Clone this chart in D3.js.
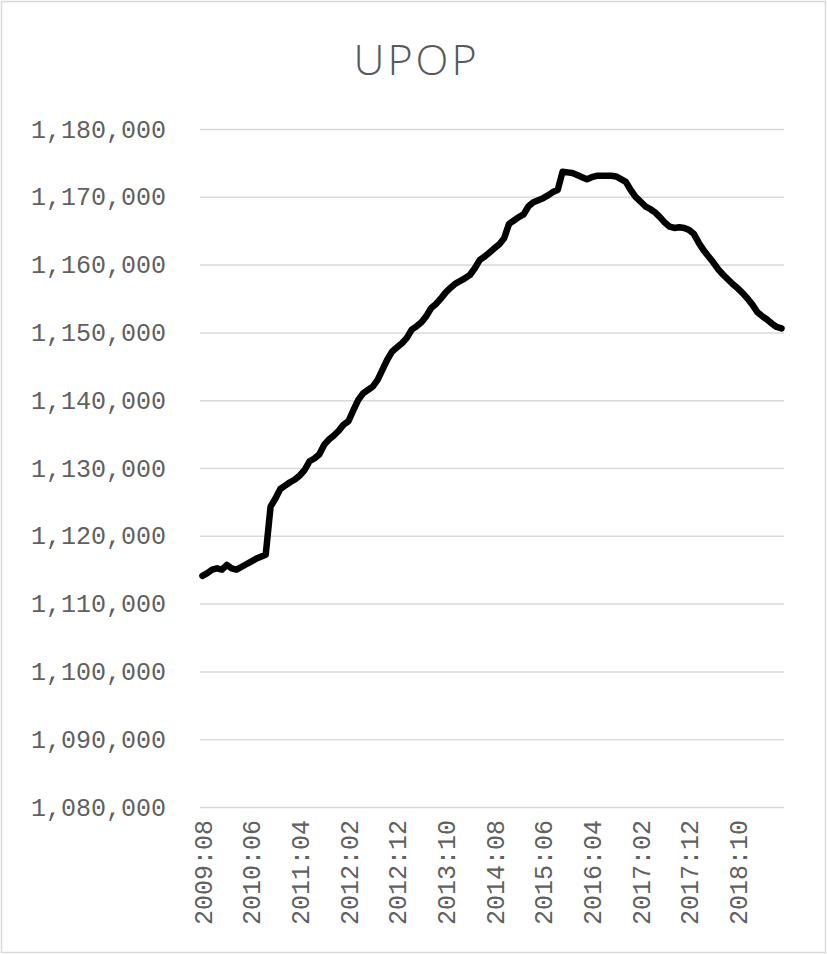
<!DOCTYPE html>
<html>
<head>
<meta charset="utf-8">
<script src="https://cdn.jsdelivr.net/npm/d3@7"></script>
<style>
  body { margin: 0; background: #fff; }
  svg { display: block; }
</style>
</head>
<body>
<svg width="827" height="954"></svg>
<script>
// reeks UPOP, maandelijks vanaf 2009:08 (120 maanden)
const startYear = 2009;
const startMonth = 8;
const monthCount = 120;

const upopValues = [
  1114100, 1114500, 1115000, 1115200, 1115000, 1115700, 1115200, 1115000, 1115400, 1115800,
  1116200, 1116600, 1116900, 1117200, 1124300, 1125500, 1126900, 1127400, 1127900, 1128300,
  1128900, 1129700, 1131000, 1131400, 1132000, 1133400, 1134200, 1134800, 1135500, 1136400,
  1136900, 1138500, 1140000, 1141000, 1141500, 1142000, 1143000, 1144500, 1146000, 1147200,
  1147800, 1148400, 1149200, 1150400, 1150900, 1151500, 1152400, 1153600, 1154200, 1155000,
  1155900, 1156600, 1157200, 1157600, 1158000, 1158500, 1159500, 1160700, 1161200, 1161800,
  1162400, 1163000, 1163900, 1166000, 1166500, 1167000, 1167400, 1168600, 1169200, 1169500,
  1169800, 1170200, 1170700, 1171000, 1173700, 1173600, 1173500, 1173200, 1172900, 1172600,
  1172900, 1173100, 1173100, 1173100, 1173100, 1173000, 1172600, 1172200, 1171000, 1170000,
  1169300, 1168600, 1168200, 1167700, 1167000, 1166200, 1165600, 1165400, 1165500, 1165400,
  1165100, 1164500, 1163200, 1162100, 1161200, 1160300, 1159300, 1158500, 1157800, 1157100,
  1156500, 1155800, 1155000, 1154100, 1153000, 1152400, 1151900, 1151300, 1150800, 1150600
];

const tickLabels = ['2009:08', '2010:06', '2011:04', '2012:02', '2012:12', '2013:10',
  '2014:08', '2015:06', '2016:04', '2017:02', '2017:12', '2018:10'];

const yTicks = [1080000, 1090000, 1100000, 1110000, 1120000, 1130000,
  1140000, 1150000, 1160000, 1170000, 1180000];

// maandlabels maken zoals 2009:08
const months = [];
for (let i = 0; i < monthCount; i++) {
  const m = startMonth - 1 + i;
  const y = startYear + Math.floor(m / 12);
  months.push(y + ':' + String(m % 12 + 1).padStart(2, '0'));
}
const data = months.map((m, i) => ({ month: m, value: upopValues[i] }));

const svg = d3.select('svg');
const width = +svg.attr('width');
const height = +svg.attr('height');
const margin = { top: 129, right: 43, bottom: 147, left: 200 };
const innerWidth = width - margin.left - margin.right;
const innerHeight = height - margin.top - margin.bottom;

// rand om de hele grafiek
svg.append('rect')
  .attr('x', 1.5).attr('y', 1.5)
  .attr('width', width - 3).attr('height', height - 3)
  .attr('fill', '#fff')
  .attr('stroke', '#d9d9d9')
  .attr('stroke-width', 1.5);

svg.append('text')
  .attr('x', width / 2 + 3)
  .attr('y', 75)
  .attr('text-anchor', 'middle')
  .style('font-family', '"Open Sans", sans-serif')
  .style('font-weight', 300)
  .style('font-size', '43px')
  .style('letter-spacing', '3px')
  .style('fill', '#595959')
  .text('UPOP');

const g = svg.append('g')
  .attr('transform', `translate(${margin.left},${margin.top})`);

const xScale = d3.scalePoint()
  .domain(months)
  .range([0, innerWidth])
  .padding(0.5);

const yScale = d3.scaleLinear()
  .domain([1080000, 1180000])
  .range([innerHeight, 0]);

// y as met rasterlijnen
const yAxisG = g.append('g')
  .call(d3.axisLeft(yScale)
    .tickValues(yTicks)
    .tickFormat(d3.format(','))
    .tickSizeInner(-innerWidth)
    .tickSizeOuter(0)
    .tickPadding(34));
yAxisG.select('.domain').remove();
yAxisG.selectAll('.tick line')
  .attr('stroke', '#d9d9d9')
  .attr('stroke-width', 1.5);
yAxisG.selectAll('.tick text')
  .style('font-family', '"Liberation Mono", monospace')
  .style('font-size', '25px')
  .style('fill', '#606060');

// x as, labels gedraaid
const xAxisG = g.append('g')
  .attr('transform', `translate(0,${innerHeight})`)
  .call(d3.axisBottom(xScale)
    .tickValues(tickLabels)
    .tickSize(0)
    .tickPadding(0));
xAxisG.select('.domain').remove();
xAxisG.selectAll('.tick text')
  .attr('transform', 'rotate(-90)')
  .attr('x', -13)
  .attr('y', 0)
  .attr('dy', '0.35em')
  .style('text-anchor', 'end')
  .style('font-family', '"Liberation Mono", monospace')
  .style('font-size', '25px')
  .style('fill', '#606060');

const line = d3.line()
  .x(d => xScale(d.month))
  .y(d => yScale(d.value));

g.append('path')
  .datum(data)
  .attr('fill', 'none')
  .attr('stroke', '#000')
  .attr('stroke-width', 6.5)
  .attr('stroke-linejoin', 'round')
  .attr('stroke-linecap', 'round')
  .attr('d', line);
</script>
</body>
</html>
